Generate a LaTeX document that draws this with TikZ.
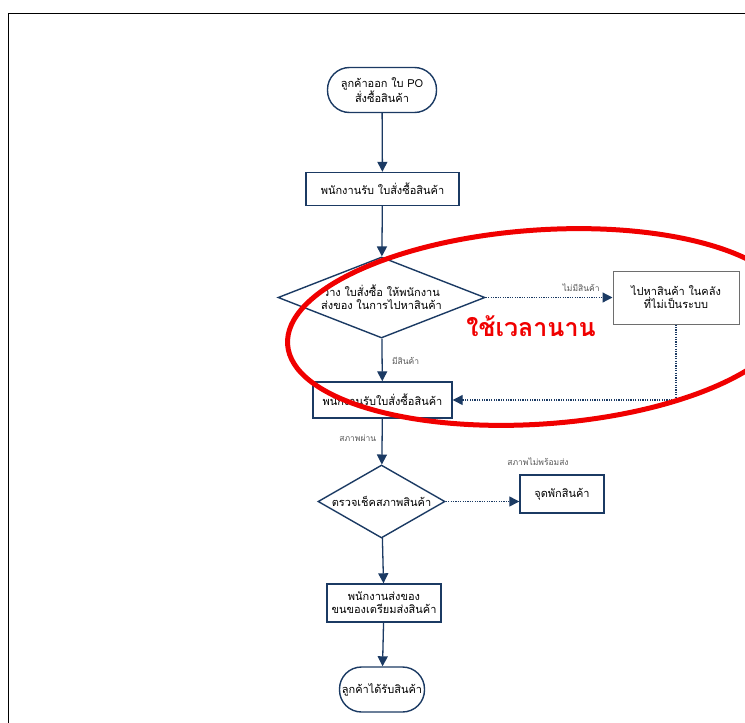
\documentclass[tikz,border=0pt]{standalone}
\usepackage{fontspec}
\newfontfamily\thaifont[Script=Thai]{Loma}
\usetikzlibrary{arrows.meta,shapes.geometric}
\definecolor{navy}{HTML}{1B3A63}
\definecolor{labelgray}{HTML}{555555}
\definecolor{boxgray}{HTML}{6E6E6E}
\definecolor{markred}{HTML}{F00000}
\begin{document}
\begin{tikzpicture}[x=1pt,y=1pt,
  every node/.style={font=\thaifont\fontsize{11}{13}\selectfont, align=center, text=black},
  terminal/.style={draw=navy, line width=1.4pt, rounded corners=22pt, inner sep=0pt},
  process/.style={draw=navy, line width=1.4pt, inner sep=0pt},
  plainbox/.style={draw=boxgray, line width=1pt, inner sep=0pt},
  decision/.style={draw=navy, line width=1.4pt, diamond, inner sep=0pt},
  flow/.style={draw=navy, line width=1.3pt, -{Triangle[width=10pt,length=10pt]}},
  dotflow/.style={draw=navy, line width=1.2pt, dash pattern=on 1.2pt off 1.2pt},
  edgelabel/.style={font=\thaifont\fontsize{8.5}{10}\selectfont, text=labelgray}
]
\useasboundingbox (0,0) rectangle (745,-723);
\clip (0,0) rectangle (745,-723);

% page frame
\draw[black, line width=1.5pt] (8.5,-730) -- (8.5,-13.5) -- (760,-13.5);

% nodes
\node[terminal, minimum width=109pt, minimum height=45pt] (start) at (382,-90)
  {ลูกค้าออก ใบ PO\\สั่งซื้อสินค้า};
\node[process, minimum width=153pt, minimum height=33pt] (recv1) at (382.5,-189)
  {พนักงานรับ ใบสั่งซื้อสินค้า};
\node[decision, minimum width=207pt, minimum height=81pt, aspect=2.55] (assign) at (381.5,-297.5)
  {วาง ใบสั่งซื้อ ให้พนักงาน\\ส่งของ ในการไปหาสินค้า};
\node[plainbox, minimum width=126pt, minimum height=53pt] (search) at (676,-297.5)
  {ไปหาสินค้า ในคลัง\\ที่ไม่เป็นระบบ};
\node[process, minimum width=139pt, minimum height=36pt] (recv2) at (382.5,-400)
  {พนักงานรับใบสั่งซื้อสินค้า};
\node[decision, minimum width=127pt, minimum height=73pt, aspect=1.74] (check) at (381.5,-501.5)
  {ตรวจเช็คสภาพสินค้า};
\node[process, minimum width=84pt, minimum height=38pt] (hold) at (562,-494)
  {จุดพักสินค้า};
\node[process, minimum width=114pt, minimum height=38pt] (ship) at (384,-603)
  {พนักงานส่งของ\\ขนของเตรียมส่งสินค้า};
\node[terminal, minimum width=85pt, minimum height=45pt] (done) at (382,-689.5)
  {ลูกค้าได้รับสินค้า};

% connectors
\draw[flow] (start) -- (recv1);
\draw[flow] (recv1) -- (assign);
\draw[flow] (assign) -- node[edgelabel, right, xshift=6pt, yshift=-1pt] (lblyes) {มีสินค้า} (recv2);
\draw[dotflow, -{Triangle[width=10pt,length=10pt]}] (assign.east) -- node[edgelabel, above, xshift=32pt, yshift=2pt] (lblno) {ไม่มีสินค้า} (search.west);
\coordinate (turn) at (search.south |- recv2.east);
\draw[dotflow, -{Triangle[width=10pt,length=10pt]}] (search.south) -- (turn) -- (recv2.east);
\draw[flow] (recv2) -- node[edgelabel, left, xshift=-2pt, yshift=3pt] (lblpass) {สภาพผ่าน} (check);
\draw[dotflow, -{Triangle[width=10pt,length=10pt]}] (check.east) -- (check.east -| hold.west);
\node[edgelabel] (lblfail) at (538,-462) {สภาพไม่พร้อมส่ง};
\draw[flow] (check) -- (ship);
\draw[flow] (ship) -- (done);

% red highlight
\draw[markred, line width=5pt, rotate around={4:(540,-327)}] (540,-327) ellipse (253pt and 97pt);
\node[text=markred, font=\thaifont\bfseries\fontsize{25}{28}\selectfont] (slow) at (531,-326) {ใช้เวลานาน};
\end{tikzpicture}
\end{document}
